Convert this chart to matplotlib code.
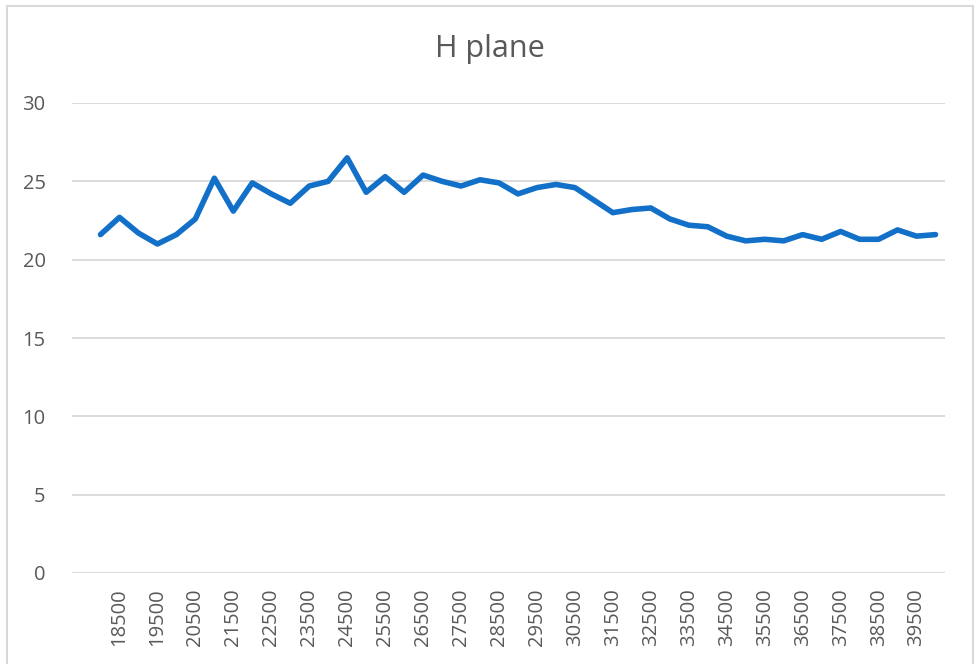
import matplotlib
matplotlib.use("Agg")
import matplotlib.pyplot as plt
from matplotlib.patches import Rectangle

# frequency categories and measured values
categories = [18000, 18500, 19000, 19500, 20000, 20500, 21000, 21500, 22000, 22500,
              23000, 23500, 24000, 24500, 25000, 25500, 26000, 26500, 27000, 27500,
              28000, 28500, 29000, 29500, 30000, 30500, 31000, 31500, 32000, 32500,
              33000, 33500, 34000, 34500, 35000, 35500, 36000, 36500, 37000, 37500,
              38000, 38500, 39000, 39500, 40000]
values = [21.6, 22.7, 21.7, 21.0, 21.6, 22.6, 25.2, 23.1, 24.9, 24.2,
          23.6, 24.7, 25.0, 26.5, 24.3, 25.3, 24.3, 25.4, 25.0, 24.7,
          25.1, 24.9, 24.2, 24.6, 24.8, 24.6, 23.8, 23.0, 23.2, 23.3,
          22.6, 22.2, 22.1, 21.5, 21.2, 21.3, 21.2, 21.6, 21.3, 21.8,
          21.3, 21.3, 21.9, 21.5, 21.6]
y_ticks = [0, 5, 10, 15, 20, 25, 30]

plt.rcParams['font.family'] = ['Open Sans', 'DejaVu Sans']
txt = '#595959'
grid = '#d9d9d9'

fig = plt.figure(figsize=(9.79, 6.64), dpi=100)
ax = fig.add_axes([72 / 979, 1 - 573 / 664, (945 - 72) / 979, (573 - 103) / 664])

# first slot on the category axis is empty, data starts in the second one
pos = list(range(1, len(categories) + 1))
ax.plot(pos, values, color='#1270c8', lw=4.0, solid_joinstyle='round', solid_capstyle='round')

ax.set_xlim(-0.5, len(categories) + 0.5)
ax.set_ylim(0, 30)
ax.set_yticks(y_ticks)
ax.set_yticklabels([str(v) for v in y_ticks])
ax.set_xticks(pos[1::2])
ax.set_xticklabels([str(c) for c in categories[1::2]], rotation=90)
ax.tick_params(axis='y', length=0, pad=19, labelsize=14.5, labelcolor=txt)
ax.tick_params(axis='x', length=0, pad=11, labelsize=14.5, labelcolor=txt)
ax.grid(axis='y', color=grid, lw=1.3)
ax.set_axisbelow(True)
for s in ax.spines.values():
    s.set_visible(False)

fig.text(0.5, 1 - 49 / 664, 'H plane', ha='center', va='center', fontsize=22, color=txt)

# chart area border
fig.patches.append(Rectangle((7.5 / 979, -0.05), (973 - 7.5) / 979, 1.05 - 5.5 / 664,
                             transform=fig.transFigure, fill=False, ec='#d9d9d9', lw=1.5))

fig.savefig('out.png', dpi=100)
